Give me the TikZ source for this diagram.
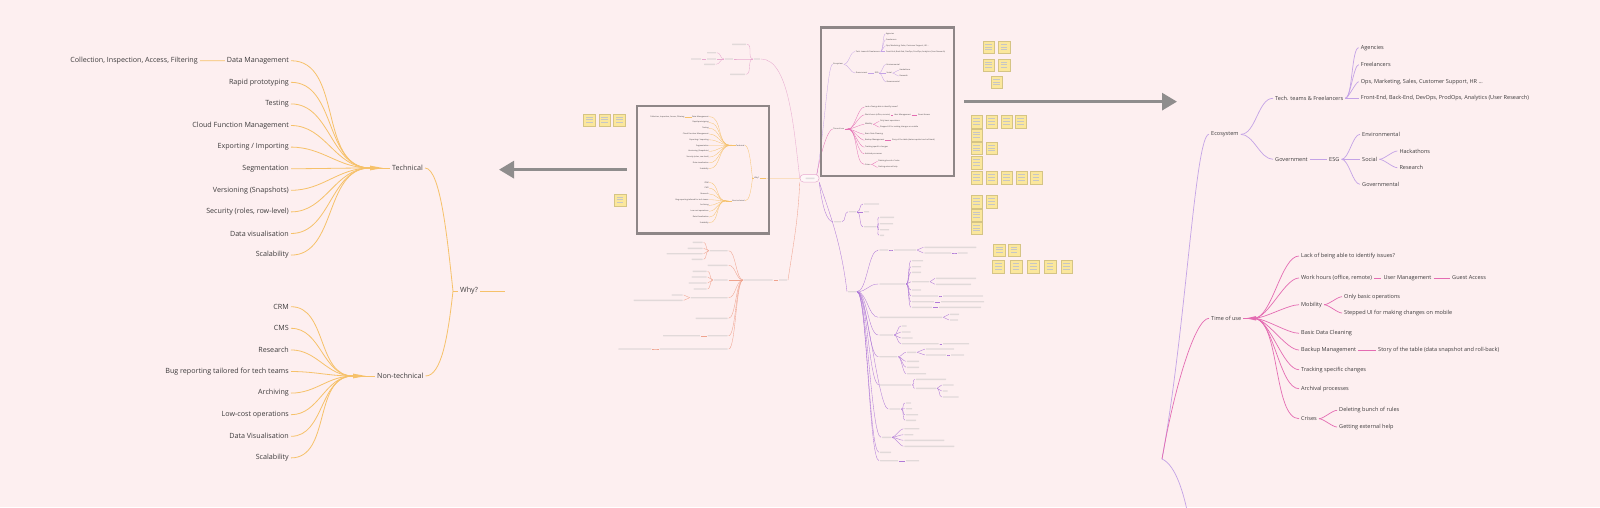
\documentclass[tikz,border=0pt]{standalone}
\usepackage{fontspec}
\setmainfont{Open Sans}
\usepackage{tikz}
\usetikzlibrary{arrows.meta}

\definecolor{bgpink}{HTML}{FDEFF0}
\definecolor{ink}{HTML}{3D3B3C}
\definecolor{orL}{HTML}{F6C16A}
\definecolor{ecoL}{HTML}{C4A3E6}
\definecolor{magL}{HTML}{E46CB2}
\definecolor{salL}{HTML}{EFA38E}
\definecolor{whoL}{HTML}{E7AACF}
\definecolor{vioL}{HTML}{B07AD8}
\definecolor{frameG}{HTML}{8E8687}
\definecolor{arrG}{HTML}{8F8D8D}
\definecolor{stk}{HTML}{FBE79C}

\tikzset{
  lbl/.style={text=ink, font=\fontsize{7.15}{8.5}\selectfont, inner xsep=2pt, inner ysep=1pt},
  rlbl/.style={text=ink, font=\fontsize{5.55}{6.8}\selectfont, inner xsep=2pt, inner ysep=1pt, anchor=west},
  obr/.style={draw=orL, line width=0.8pt},
  ebr/.style={draw=ecoL, line width=0.7pt},
  mbr/.style={draw=magL, line width=0.7pt},
  kbr/.style={draw=whoL, line width=0.35pt},
  sbr/.style={draw=salL, line width=0.35pt},
  vbr/.style={draw=vioL, line width=0.35pt},
  curvy/.style={out=0, in=180, distance=#1},
  ghost/.style={fill=gray!50, fill opacity=0.45, draw=none, minimum height=1.4pt, inner sep=0pt,
    outer xsep=1pt, rounded corners=0.4pt, anchor=west},
  hubnode/.style={draw=whoL, fill=bgpink!50!white, rounded corners=3.5pt, line width=0.5pt,
    minimum width=19pt, minimum height=7.5pt, inner sep=0pt},
  sticky/.style={fill=stk, draw=stk!85!black, line width=0.2pt, minimum width=11.5pt, minimum height=12.5pt,
    inner sep=0pt, path picture={\foreach \k in {1,2,3}
      \draw[gray!45, line width=0.45pt] ([xshift=2.5pt, yshift=-\k*2.6pt-0.6pt]path picture bounding box.north west) -- ++(6.5pt,0pt);}},
  frame/.style={draw=frameG, line width=2.6pt, inner sep=0pt},
  bigarrow/.style={draw=arrG, line width=3pt, -{Triangle[length=15pt, width=17pt]}}
}

% unreadable mini-map label
\newcommand{\gbar}[4]{\node[ghost, minimum width=#4*1pt] (#1) at (#2,#3) {};}
% children on the right of a parent
\newcommand{\kids}[4][6pt]{%
  \foreach \n/\x/\y/\w in {#4}{%
    \gbar{\n}{\x}{\y}{\w}
    \draw[#3] (#2.east) to[curvy=#1] (\n.west);
  }}
% children on the left of a parent
\newcommand{\lkids}[4][6pt]{%
  \foreach \n/\x/\y/\w in {#4}{%
    \gbar{\n}{\x}{\y}{\w}
    \draw[#3] (\n.east) to[curvy=#1] (#2.west);
  }}

% the "Why?" tree
\newcommand{\whytree}{%
  % technical
  \coordinate (th) at (370,168);
  \node[lbl, anchor=west] (tech) at (390,168) {Technical};
  \foreach \lab [count=\i] in {Data Management, Rapid prototyping, Testing, Cloud Function Management,
      Exporting / Importing, Segmentation, Versioning (Snapshots), {Security (roles, row-level)},
      Data visualisation, Scalability}{
    \node[lbl, anchor=east] (t\i) at (291,{39.1+21.6*\i}) {\lab};
    \draw[obr] (t\i.east) to[out=0, in=180] (th);
  }
  \node[lbl, anchor=east] (cia) at (200,60.7) {Collection, Inspection, Access, Filtering};
  \draw[obr] (cia.east) -- (t1.west);
  \fill[orL] (th) ++(0,-2.4) -- ++(13,2.4) -- ++(-13,2.4) -- cycle;
  \draw[obr] (th) -- (tech.west);
  % non-technical
  \coordinate (nh) at (353,376);
  \node[lbl, anchor=west] (ntech) at (375,376) {Non-technical};
  \foreach \lab [count=\i] in {CRM, CMS, Research, Bug reporting tailored for tech teams, Archiving,
      Low-cost operations, Data Visualisation, Scalability}{
    \node[lbl, anchor=east] (n\i) at (291,{285.1+21.6*\i}) {\lab};
    \draw[obr] (n\i.east) to[out=0, in=180] (nh);
  }
  \fill[orL] (nh) ++(0,-2.4) -- ++(13,2.4) -- ++(-13,2.4) -- cycle;
  \draw[obr] (nh) -- (ntech.west);
  % why
  \coordinate (wj) at (453,291);
  \node[lbl, anchor=west] (why) at (458,291) {Why?};
  \draw[obr] (tech.east) .. controls +(16,0) and +(-5,-45) .. (wj);
  \draw[obr] (ntech.east) .. controls +(16,0) and +(-5,45) .. (wj);
  \draw[obr] (wj) -- (why.west);
  \coordinate (wend) at (505,291);
  \draw[obr] (why.east) -- (wend);
}

% the ecosystem / time of use tree
\newcommand{\ecotree}{%
  \coordinate (root) at (1162,459);
  % ecosystem
  \node[rlbl] (eco) at (1209,134.3) {Ecosystem};
  \draw[ebr] (eco.west) .. controls +(-14,0) and +(24,-130) .. (root);
  \node[rlbl] (ttf) at (1273,98.3) {Tech. teams \& Freelancers};
  \node[rlbl] (gov) at (1273,159.3) {Government};
  \foreach \n in {ttf,gov} \draw[ebr] (eco.east) to[out=0, in=180, looseness=0.8] (\n.west);
  \foreach \lab/\y [count=\i] in {Agencies/47.7, Freelancers/64.7,
      {Ops, Marketing, Sales, Customer Support, HR ...}/81.7,
      {Front-End, Back-End, DevOps, ProdOps, Analytics (User Research)}/98.3}{
    \node[rlbl] (a\i) at (1358.7,\y) {\lab};
    \draw[ebr] (ttf.east) to[out=0, in=180, looseness=0.35] (a\i.west);
  }
  \node[rlbl] (esg) at (1327,159.3) {ESG};
  \draw[ebr] (gov.east) -- (esg.west);
  \foreach \lab/\y/\n in {Environmental/134.3/env, Social/159.3/soc, Governmental/184.3/gvt}{
    \node[rlbl] (\n) at (1360,\y) {\lab};
    \draw[ebr] (esg.east) to[out=0, in=180, looseness=0.6] (\n.west);
  }
  \foreach \lab/\y/\n in {Hackathons/151/hack, Research/167.7/res}{
    \node[rlbl] (\n) at (1397.3,\y) {\lab};
    \draw[ebr] (soc.east) to[out=0, in=180, looseness=0.6] (\n.west);
  }
  % time of use
  \node[rlbl] (tou) at (1209,318.3) {Time of use};
  \draw[mbr] (tou.west) .. controls +(-14,0) and +(12,-70) .. (root);
  \coordinate (toh) at (1254,318.3);
  \draw[mbr] (tou.east) -- (toh);
  \fill[magL] (toh) ++(-8,0) -- ++(10,-2.2) -- ++(0,4.4) -- cycle;
  \foreach \lab/\y [count=\i] in {Lack of being able to identify issues?/256, {Work hours (office, remote)}/278,
      Mobility/304.7, Basic Data Cleaning/333.3, Backup Management/350, Tracking specific changes/369.7,
      Archival processes/388.7, Crises/418.7}{
    \node[rlbl] (u\i) at (1299,\y) {\lab};
    \draw[mbr] (toh) to[out=0, in=180, looseness=0.6] (u\i.west);
  }
  \node[rlbl] (um) at (1381.3,278) {User Management};
  \node[rlbl] (ga) at (1450,278) {Guest Access};
  \draw[mbr] (u2.east) -- (um.west);
  \draw[mbr] (um.east) -- (ga.west);
  \node[rlbl] (ob) at (1342,296.7) {Only basic operations};
  \node[rlbl] (su) at (1342,313) {Stepped UI for making changes on mobile};
  \foreach \n in {ob,su} \draw[mbr] (u3.east) to[out=0, in=180, looseness=0.6] (\n.west);
  \node[rlbl] (st) at (1376,350) {Story of the table (data snapshot and roll-back)};
  \draw[mbr] (u5.east) -- (st.west);
  \node[rlbl] (db) at (1337,410.3) {Deleting bunch of rules};
  \node[rlbl] (ge) at (1337,427) {Getting external help};
  \foreach \n in {db,ge} \draw[mbr] (u8.east) to[out=0, in=180, looseness=0.6] (\n.west);
}

\begin{document}
\begin{tikzpicture}[x=1pt, y=-1pt]
  \useasboundingbox (0,0) rectangle (1600,507);
  \fill[bgpink] (0,0) rectangle (1600,507);
  \clip (0,0) rectangle (1600,507);

  % full size trees
  \whytree
  \ecotree
  \coordinate (rootend) at (1188,515);
  \draw[ebr] (root) .. controls +(14,6) and +(-4,-20) .. (rootend);

  % mini map: copies of both trees
  \begin{scope}[name prefix=mL-, shift={(631.5,100.5)}, scale=0.267, transform shape,
      obr/.append style={line width=0.3pt}]
    \whytree
  \end{scope}
  \begin{scope}[name prefix=mR-, shift={(407,17)}, scale=0.352, transform shape,
      ebr/.append style={line width=0.3pt}, mbr/.append style={line width=0.3pt}]
    \ecotree
  \end{scope}

  % mini map: hub and unreadable branches
  \node[hubnode] (hub) at (809.5,178.3) {};
  \gbar{hubt}{804.5}{178.3}{9}
  \draw[obr, line width=0.35pt] (mL-wend) -- (hub.west);

  \gbar{who}{753}{59}{6}
  \draw[kbr] (who.east) .. controls +(28,0) and +(-6,-50) .. (hub.west);
  \lkids{who}{kbr}{wa/731/44.3/14, wb/724/59/8, wc/729/74.3/15}
  \lkids[4pt]{wb}{kbr}{wb1/706/52.7/9, wb2/706/59/9, wb3/703/64.3/11}
  \gbar{wb0}{690}{59}{10}
  \draw[kbr] (wb0.east) -- (wb2.west);

  \gbar{ua}{778}{280}{8}
  \draw[sbr] (hub.south west) .. controls +(-2,40) and +(6,-40) .. (ua.east);
  \gbar{ub}{743}{280}{28.7}
  \draw[sbr] (ub.east) -- (ua.west);
  \lkids[7pt]{ub}{sbr}{c1/708.7/250.7/18, c2/706.7/265.3/20, c3/712.7/280/14, c4/689.7/297.7/37,
    c5/694.7/318.3/32, c6/706.7/335.7/20, c7/658.7/349/68}
  \lkids[3pt]{c1}{sbr}{c1a/691.7/242.3/10, c1b/686.7/248.3/15, c1c/665.7/253.7/36, c1d/690.7/259.3/11}
  \lkids[3pt]{c3}{sbr}{c3a/691.7/271.3/14, c3b/690.7/277/15, c3c/687.7/283/18, c3d/692.7/289/13}
  \lkids[3pt]{c4}{sbr}{c4a/670.7/295/11, c4b/632.7/300.3/49}
  \lkids{c6}{sbr}{c6a/662/335.7/37}
  \lkids{c7}{sbr}{c7a/617.3/349/33}

  \gbar{ab}{833}{221.7}{7}
  \draw[vbr] (hub.south east) .. controls +(3,25) and +(-6,0) .. (ab.west);
  \gbar{ft}{847}{291.7}{8}
  \draw[vbr] (hub.south east) .. controls +(10,30) and +(-6,-50) .. (ft.west);
  \kids[4pt]{ab}{vbr}{pb/848/211.7/7}
  \kids[4pt]{pb}{vbr}{pd/863/204/15, pc/863/211.7/5, pe/863/226.7/12}
  \kids[3pt]{pe}{vbr}{pe1/879/217.3/14, pe2/879/223.7/13, pe3/879/229.7/9, pe4/879/235.3/4}
  \kids[10pt]{ft}{vbr}{f1/878.3/250/9, f2/878.3/284/26, f3/878.3/317.3/63, f4/878.3/335/14,
    f5/878.3/356.7/18, f6/879/385/31, f7/888.3/409/11, f8/881/437.3/9, f9/879/452.3/11, f10/879/460.7/18}
  \kids{f1}{vbr}{f1b/893/250/22}
  \kids[3pt]{f1b}{vbr}{f1c/923.3/247.3/52, f1d/923.3/253/27}
  \kids{f1d}{vbr}{f1e/956.7/253/10}
  \kids[3pt]{f2}{vbr}{g1/911/260.7/11, g2/911/266.7/9, g3/911/272.3/9, g4/911/281.7/17,
    g5/911/290/9, g6/911/296/26, g7/911/301.7/22, g8/911/307.3/20}
  \kids[3pt]{g4}{vbr}{g4a/935/278.3/40, g4b/935/284.3/35}
  \kids{g6}{vbr}{g6a/942/296/40}
  \kids{g7}{vbr}{g7a/940/301.7/43}
  \kids{g8}{vbr}{g8a/938/307.3/42}
  \kids[3pt]{f3}{vbr}{h1/949/314.3/9, h2/949/320/8}
  \kids[3pt]{f4}{vbr}{i1/900.7/326/5, i2/900.7/332/9, i3/900.7/338/11, i4/900.7/343.7/37}
  \kids{i4}{vbr}{i4a/942/343.7/26}
  \kids[3pt]{f5}{vbr}{j1/906/352.3/9, j2/906/361.3/12, j3/906/367.3/12, j4/906/373.7/19}
  \kids[3pt]{j1}{vbr}{j1a/925/349/28, j1b/925/355/20}
  \kids{j1b}{vbr}{j1c/950/355/13}
  \kids[3pt]{f6}{vbr}{k1/915/379.3/30, k2/915/388.3/20}
  \kids[3pt]{k2}{vbr}{k2a/941.7/385/11, k2b/941.7/391/5, k2c/941.7/397/16}
  \kids[3pt]{f7}{vbr}{l1/905/403/5, l2/905/408.7/6, l3/905/414.7/12, l4/905/420.3/10}
  \kids[3pt]{f8}{vbr}{m1/903.3/428.7/15, m2/903.3/434.7/9, m3/903.3/440.3/40, m4/903.3/446.3/50}
  \kids{f10}{vbr}{f10a/905/460.7/13}

  % sticky notes
  \foreach \sx/\sy [count=\i] in {589.3/120, 604.5/120, 619.3/120, 620/200,
      988.7/47.3, 1004/47.3, 988.7/65, 1004/65, 996.7/82.3,
      976.7/121.7, 991.7/121.7, 1006.7/121.7, 1020.7/121.7, 976.7/135, 976.7/148.3, 991.7/148.3,
      976.7/162.7, 976.7/177.7, 991.7/177.7, 1006.7/177.7, 1021.7/177.7, 1036/177.7,
      976.7/201.7, 991.7/201.7, 976.7/215, 976.7/228.3,
      999.3/250, 1014/250, 998.3/266.7, 1016/266.7, 1033.3/266.7, 1050/266.7, 1066.7/266.7}
    \node[sticky] (s\i) at (\sx,\sy) {};

  % zoom frames and arrows
  \node[frame, minimum width=132pt, minimum height=127.3pt] (lbox) at (703,169.65) {};
  \node[frame, minimum width=133pt, minimum height=148.7pt] (rbox) at (887.5,101.65) {};
  \coordinate (ltip) at (499,169.65);
  \coordinate (rtip) at (1177,101.65);
  \draw[bigarrow] ([xshift=-9pt]lbox.west) -- (ltip);
  \draw[bigarrow] ([xshift=9pt]rbox.east) -- (rtip);
\end{tikzpicture}
\end{document}
